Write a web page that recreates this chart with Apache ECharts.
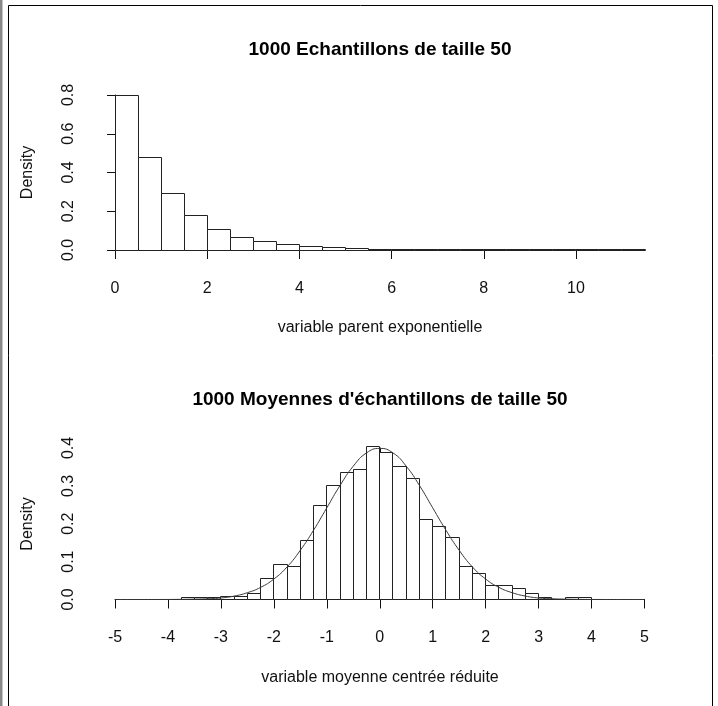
<!DOCTYPE html>
<html>
<head>
<meta charset="utf-8">
<script src="https://cdn.jsdelivr.net/npm/echarts@6/dist/echarts.min.js"></script>
<style>
  html, body { margin: 0; padding: 0; background: #fff; }
  #chart { width: 718px; height: 706px; }
</style>
</head>
<body>
<div id="chart"></div>
<script>
// Histogram of the exponential parent variable (bin edges and densities)
var parentBreaks = [0, 0.5, 1, 1.5, 2, 2.5, 3, 3.5, 4, 4.5, 5, 5.5, 6, 6.5, 7,
                    7.5, 8, 8.5, 9, 9.5, 10, 10.5, 11, 11.5];
var parentDensity = [0.795, 0.476, 0.294, 0.177, 0.107, 0.065, 0.042, 0.028, 0.018,
                     0.011, 0.006, 0.004, 0.003, 0.002, 0.0008, 0.0005, 0.0003, 0.0002,
                     0.0001, 0.0001, 0.0001, 0.00004, 0.0001];

// Histogram of the standardised sample means
var meanBreaks = [-3.75, -3.5, -3.25, -3, -2.75, -2.5, -2.25, -2, -1.75, -1.5, -1.25,
                  -1, -0.75, -0.5, -0.25, 0, 0.25, 0.5, 0.75, 1, 1.25, 1.5, 1.75, 2,
                  2.25, 2.5, 2.75, 3, 3.25, 3.5, 3.75, 4];
var meanDensity = [0.004, 0.004, 0.004, 0.008, 0.008, 0.016, 0.056, 0.092, 0.088, 0.156,
                   0.248, 0.300, 0.336, 0.344, 0.404, 0.388, 0.352, 0.320, 0.212, 0.192,
                   0.164, 0.088, 0.068, 0.036, 0.036, 0.028, 0.016, 0.004, 0, 0.004, 0.004];

// Overlaid normal density curve
var curveX = [-5, -4.75, -4.5, -4.25, -4, -3.75, -3.5, -3.25, -3, -2.75, -2.5, -2.25, -2,
              -1.75, -1.5, -1.25, -1, -0.75, -0.5, -0.25, 0, 0.25, 0.5, 0.75, 1, 1.25,
              1.5, 1.75, 2, 2.25, 2.5, 2.75, 3, 3.25, 3.5, 3.75, 4, 4.25, 4.5, 4.75, 5];
var curveY = [0, 0, 0, 0, 0.0001, 0.0004, 0.001, 0.002, 0.004, 0.009, 0.018, 0.032, 0.054,
              0.086, 0.130, 0.183, 0.242, 0.301, 0.352, 0.387, 0.399, 0.387, 0.352, 0.301,
              0.242, 0.183, 0.130, 0.086, 0.054, 0.032, 0.018, 0.009, 0.004, 0.002, 0.001,
              0.0004, 0.0001, 0, 0, 0, 0];

// Axis tick values
var parentTicksX = [0, 2, 4, 6, 8, 10];
var parentTicksY = [0, 0.2, 0.4, 0.6, 0.8];
var meanTicksX = [-5, -4, -3, -2, -1, 0, 1, 2, 3, 4, 5];
var meanTicksY = [0, 0.1, 0.2, 0.3, 0.4];

var FONT = "'Liberation Sans', Arial, sans-serif";
var INK = '#111';

function bins(breaks, dens) {
  var out = [];
  for (var i = 0; i < dens.length; i++) out.push([breaks[i], breaks[i + 1], dens[i]]);
  return out;
}

// snap to the centre of a pixel so 1px outlines stay sharp
function crisp(v) { return Math.floor(v) + 0.5; }

function histItem(params, api) {
  var a = api.coord([api.value(0), 0]);
  var b = api.coord([api.value(1), api.value(2)]);
  var x0 = crisp(a[0]), x1 = crisp(b[0]);
  var y0 = crisp(a[1]), y1 = crisp(b[1]);
  if (y0 - y1 < 0.5) {
    // empty bin: R still draws its outline as a flat segment on the baseline
    return {
      type: 'line',
      shape: { x1: x0, y1: y0, x2: x1, y2: y0 },
      style: { stroke: '#222', lineWidth: 1 }
    };
  }
  return {
    type: 'rect',
    shape: { x: x0, y: y1, width: x1 - x0, height: y0 - y1 },
    style: { fill: '#fff', stroke: '#222', lineWidth: 1 }
  };
}

function xAxisOpt(gridIndex, min, max, interval, offset, ticks) {
  return {
    type: 'value', gridIndex: gridIndex, min: min, max: max, interval: interval,
    offset: offset, position: 'bottom',
    axisLine: { show: true, lineStyle: { color: INK, width: 1 } },
    axisTick: { show: true, length: 9, lineStyle: { color: INK, width: 1 } },
    axisLabel: {
      show: true, margin: 24, fontFamily: FONT, fontSize: 16, color: INK,
      showMinLabel: true, showMaxLabel: true,
      formatter: function (v) { return ticks.indexOf(v) >= 0 ? String(v) : ''; }
    },
    splitLine: { show: false }
  };
}

function yAxisOpt(gridIndex, max, interval, ticks) {
  return {
    type: 'value', gridIndex: gridIndex, min: 0, max: max, interval: interval,
    offset: 24, position: 'left',
    axisLine: { show: true, lineStyle: { color: INK, width: 1 } },
    axisTick: { show: true, length: 8, lineStyle: { color: INK, width: 1 } },
    axisLabel: {
      show: true, rotate: 90, margin: 14, fontFamily: FONT, fontSize: 16, color: INK,
      showMinLabel: true, showMaxLabel: true,
      formatter: function (v) { return v.toFixed(1); }
    },
    splitLine: { show: false }
  };
}

var chart = echarts.init(document.getElementById('chart'), null, { renderer: 'canvas' });

chart.setOption({
  animation: false,
  backgroundColor: '#fff',
  grid: [
    { left: 115, top: 95, width: 530, height: 155, containLabel: false },
    { left: 115, top: 95, width: 461, height: 155, containLabel: false },
    { left: 115, top: 448, width: 529.5, height: 151.5, containLabel: false }
  ],
  xAxis: [
    { type: 'value', gridIndex: 0, min: 0, max: 11.5, show: false },
    xAxisOpt(1, 0, 10, 2, 7, parentTicksX),
    xAxisOpt(2, -5, 5, 1, 6.5, meanTicksX)
  ],
  yAxis: [
    yAxisOpt(0, 0.8, 0.2, parentTicksY),
    { type: 'value', gridIndex: 1, min: 0, max: 0.8, show: false },
    yAxisOpt(2, 0.4, 0.1, meanTicksY)
  ],
  series: [
    {
      type: 'custom', xAxisIndex: 0, yAxisIndex: 0, clip: false,
      renderItem: histItem, data: bins(parentBreaks, parentDensity)
    },
    {
      type: 'custom', xAxisIndex: 2, yAxisIndex: 2, clip: false,
      renderItem: histItem, data: bins(meanBreaks, meanDensity)
    },
    {
      type: 'line', xAxisIndex: 2, yAxisIndex: 2, smooth: true, showSymbol: false,
      symbol: 'none', z: 5,
      lineStyle: { color: '#3a3a3a', width: 1 },
      data: curveX.map(function (x, i) { return [x, curveY[i]]; })
    }
  ],
  graphic: [
    // page frame
    { type: 'rect', shape: { x: 0, y: 0, width: 2.5, height: 706 }, style: { fill: '#8a8a8a' } },
    { type: 'polyline', shape: { points: [[8.5, 706], [8.5, 5.5], [712.5, 5.5], [712.5, 706]] },
      style: { stroke: '#000', lineWidth: 1, fill: null } },
    // titles
    { type: 'text', x: 380, y: 50,
      style: { text: '1000 Echantillons de taille 50', font: 'bold 19px ' + FONT,
               fill: '#000', align: 'center', verticalAlign: 'middle' } },
    { type: 'text', x: 380, y: 400,
      style: { text: "1000 Moyennes d'échantillons de taille 50", font: 'bold 19px ' + FONT,
               fill: '#000', align: 'center', verticalAlign: 'middle' } },
    // axis names
    { type: 'text', x: 380, y: 328,
      style: { text: 'variable parent exponentielle', font: '16px ' + FONT,
               fill: INK, align: 'center', verticalAlign: 'middle' } },
    { type: 'text', x: 380, y: 678,
      style: { text: 'variable moyenne centrée réduite', font: '16px ' + FONT,
               fill: INK, align: 'center', verticalAlign: 'middle' } },
    { type: 'text', x: 28, y: 172.5, rotation: Math.PI / 2,
      style: { text: 'Density', font: '16px ' + FONT,
               fill: INK, align: 'center', verticalAlign: 'middle' } },
    { type: 'text', x: 28, y: 524, rotation: Math.PI / 2,
      style: { text: 'Density', font: '16px ' + FONT,
               fill: INK, align: 'center', verticalAlign: 'middle' } }
  ]
});
</script>
</body>
</html>
